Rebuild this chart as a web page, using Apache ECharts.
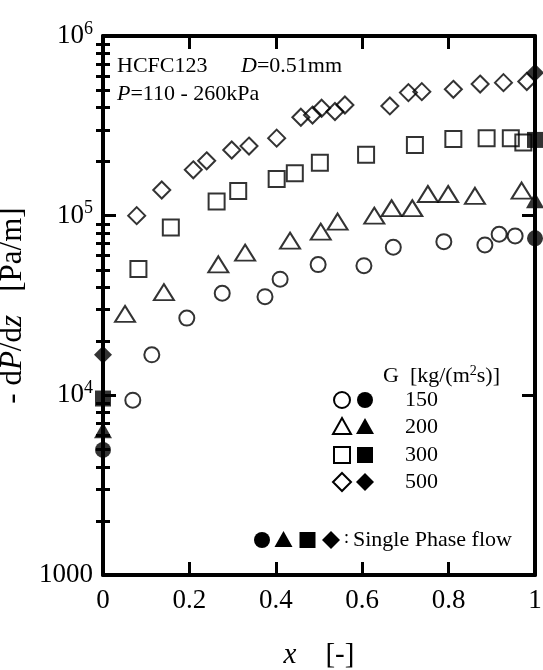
<!DOCTYPE html>
<html><head><meta charset="utf-8">
<script src="https://cdn.jsdelivr.net/npm/echarts@6/dist/echarts.min.js"></script>
<style>html,body{margin:0;padding:0;background:#fff}#c{width:543px;height:670px}</style>
</head><body><div id="c"></div>
<script>
// ---- data ----
const g150X = [0.069, 0.113, 0.194, 0.276, 0.375, 0.410, 0.498, 0.604, 0.672, 0.789, 0.884, 0.917, 0.954];
const g150Y = [9400, 16800, 26900, 37000, 35400, 44300, 53400, 52700, 66700, 71700, 68700, 78800, 77100];
const g200X = [0.051, 0.141, 0.267, 0.329, 0.433, 0.504, 0.543, 0.628, 0.668, 0.716, 0.752, 0.799, 0.861, 0.969];
const g200Y = [28400, 37500, 53600, 62200, 72600, 81500, 92700, 100000, 110000, 110000, 132000, 132000, 129000, 138000];
const g300X = [0.082, 0.157, 0.263, 0.313, 0.402, 0.444, 0.502, 0.609, 0.722, 0.811, 0.888, 0.944, 0.973];
const g300Y = [50500, 85800, 120000, 137000, 160000, 172000, 197000, 218000, 247000, 267000, 270000, 270000, 255000];
const g500X = [0.078, 0.136, 0.209, 0.240, 0.298, 0.338, 0.402, 0.458, 0.485, 0.506, 0.537, 0.560, 0.664, 0.707, 0.738, 0.811, 0.873, 0.927, 0.981];
const g500Y = [100000, 139000, 180000, 202000, 232000, 244000, 270000, 353000, 363000, 396000, 380000, 413000, 408000, 484000, 490000, 505000, 540000, 550000, 558000];
const singleX = [0, 1];
const single150 = [4970, 74800];
const single200 = [6400, 122000];
const single300 = [9600, 264000];
const single500 = [16800, 625000];
const legendValues = ['150', '200', '300', '500'];
const minorTickValues = [2000,3000,4000,5000,6000,7000,8000,9000,
  20000,30000,40000,50000,60000,70000,80000,90000,
  200000,300000,400000,500000,600000,700000,800000,900000];

const FONT = 'Liberation Serif';
const pairs = (xs, ys) => xs.map((x, i) => [x, ys[i]]);

const chart = echarts.init(document.getElementById('c'), null, {renderer: 'canvas'});

const axLine = {show: true, onZero: false, lineStyle: {color: '#000', width: 4}};
const majorTick = {show: true, inside: true, length: 13, lineStyle: {color: '#000', width: 3}};
const minorTickStyle = {show: true, inside: true, length: 7, customValues: minorTickValues, lineStyle: {color: '#000', width: 3}};

const yBase = {type: 'log', logBase: 10, min: 1000, max: 1000000, splitLine: {show: false}, axisLine: axLine};
const xBase = {type: 'value', min: 0, max: 1, interval: 0.2, splitLine: {show: false}, axisLine: axLine, axisTick: majorTick};

const openStyle = {color: 'rgba(0,0,0,0)', borderColor: '#000', borderWidth: 2};
const fillStyle = {color: '#000', borderColor: '#000', borderWidth: 0};

function sc(data, symbol, size, style) {
  return {type: 'scatter', data, symbol, symbolSize: size, itemStyle: style,
    clip: false, xAxisIndex: 0, yAxisIndex: 0, emphasis: {disabled: true}, z: 5};
}

// legend graphics
const G = [];
const txt = (x, y, text, extra) => G.push(Object.assign({type: 'text', x, y,
  style: Object.assign({text, fill: '#000', font: '22px ' + FONT, verticalAlign: 'middle', align: 'left'}, extra || {})}));
function sym(kind, cx, cy, filled) {
  const style = filled ? {fill: '#000', stroke: '#000', lineWidth: 0} : {fill: 'none', stroke: '#000', lineWidth: 2};
  if (kind === 'circle') G.push({type: 'circle', shape: {cx, cy, r: 8}, style});
  else if (kind === 'triangle') G.push({type: 'polygon', shape: {points: [[cx - 9, cy + 7], [cx + 9, cy + 7], [cx, cy - 9]]}, style});
  else if (kind === 'rect') G.push({type: 'rect', shape: {x: cx - 8, y: cy - 8, width: 16, height: 16}, style});
  else G.push({type: 'polygon', shape: {points: [[cx, cy - 9], [cx + 9, cy], [cx, cy + 9], [cx - 9, cy]]}, style});
}
const kinds = ['circle', 'triangle', 'rect', 'diamond'];
const rowY = [400, 427, 455, 482];
kinds.forEach((k, i) => { sym(k, 342, rowY[i], false); sym(k, 365, rowY[i], true); txt(405, rowY[i], legendValues[i]); });
G.push({type: 'text', x: 383, y: 376, style: {text: 'G  [kg/(m{s|2}s)]', fill: '#000', font: '22px ' + FONT, verticalAlign: 'middle',
  rich: {s: {font: '14px ' + FONT, fill: '#000', padding: [0, 0, 10, 0]}}}});
[262, 283.5, 307.5, 331].forEach((x, i) => sym(kinds[i], x, 540, true));
txt(344, 538, ':', {font: '18px ' + FONT});
txt(353, 540, 'Single Phase flow');
// annotations
txt(117, 66, 'HCFC123');
G.push({type: 'text', x: 241, y: 66, style: {text: '{i|D}=0.51mm', fill: '#000', font: '22px ' + FONT, verticalAlign: 'middle',
  rich: {i: {font: 'italic 22px ' + FONT, fill: '#000'}}}});
G.push({type: 'text', x: 117, y: 94, style: {text: '{i|P}=110 - 260kPa', fill: '#000', font: '22px ' + FONT, verticalAlign: 'middle',
  rich: {i: {font: 'italic 22px ' + FONT, fill: '#000'}}}});

const option = {
  animation: false,
  backgroundColor: '#fff',
  grid: {left: 103, right: 8, top: 36, bottom: 95, containLabel: false, outerBoundsMode: 'none'},
  xAxis: [
    Object.assign({}, xBase, {position: 'bottom',
      axisLabel: {show: true, margin: 12, color: '#000', fontFamily: FONT, fontSize: 27, showMinLabel: true, showMaxLabel: true,
        formatter: v => (v === 0 ? '0' : (Math.abs(v - 1) < 1e-9 ? '1' : v.toFixed(1)))},
      name: '{i|x}    [-]', nameLocation: 'middle', nameGap: 66,
      nameTextStyle: {color: '#000', fontFamily: FONT, fontSize: 29, rich: {i: {fontStyle: 'italic', fontFamily: FONT, fontSize: 29, color: '#000'}}}}),
    Object.assign({}, xBase, {position: 'top', axisLabel: {show: false}})
  ],
  yAxis: [
    Object.assign({}, yBase, {position: 'left', axisTick: majorTick,
      axisLabel: {show: true, margin: 10, color: '#000', fontFamily: FONT, fontSize: 27, showMinLabel: true, showMaxLabel: true,
        formatter: v => { const e = Math.round(Math.log10(v)); return e === 3 ? '1000' : '10{s|' + e + '}'; },
        rich: {s: {fontFamily: FONT, fontSize: 18, color: '#000', padding: [0, 0, 14, 0]}}},
      name: '- d{i|P}/d{i|z}   [Pa/m]', nameLocation: 'middle', nameRotate: 90, nameGap: 56,
      nameTextStyle: {color: '#000', fontFamily: FONT, fontSize: 31, rich: {i: {fontStyle: 'italic', fontFamily: FONT, fontSize: 31, color: '#000'}}}}),
    Object.assign({}, yBase, {position: 'right', axisTick: majorTick, axisLabel: {show: false}}),
    Object.assign({}, yBase, {position: 'left', axisLine: {show: false}, axisTick: minorTickStyle, axisLabel: {show: false}}),
    Object.assign({}, yBase, {position: 'right', axisLine: {show: false}, axisTick: minorTickStyle, axisLabel: {show: false}})
  ],
  series: [
    sc(pairs(g150X, g150Y), 'circle', 15, openStyle),
    sc(pairs(g200X, g200Y), 'triangle', [20, 16], openStyle),
    sc(pairs(g300X, g300Y), 'rect', 16, openStyle),
    sc(pairs(g500X, g500Y), 'diamond', 17, openStyle),
    sc(pairs(singleX, single150), 'circle', 16, fillStyle),
    sc(pairs(singleX, single200), 'triangle', [18, 16], fillStyle),
    sc(pairs(singleX, single300), 'rect', 16, fillStyle),
    sc(pairs(singleX, single500), 'diamond', 18, fillStyle)
  ],
  graphic: G
};
chart.setOption(option);
</script></body></html>
